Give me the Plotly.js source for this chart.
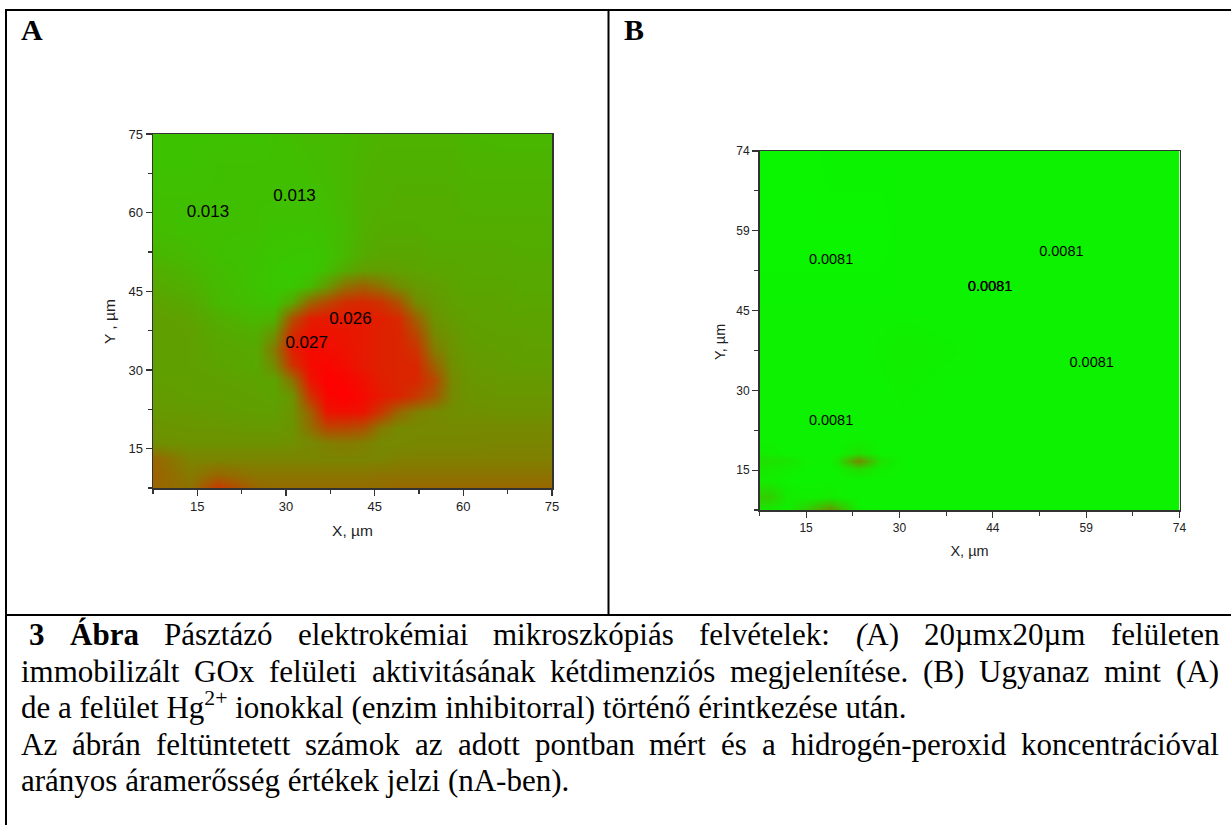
<!DOCTYPE html>
<html><head><meta charset="utf-8">
<script src="https://cdn.plot.ly/plotly-3.0.1.min.js"></script>
<style>html,body{margin:0;padding:0;background:#fff}#c{width:1231px;height:825px}</style></head>
<body><div id="c"></div>
<script>
// Panel A: relative signal (0 = green, 1 = red)
const xA=[7.5,14,18.5,25,28,31,34,37,40,43,46,49,52,55,58,61,66,70.5,75];
const yA=[7.5,10,13,16,19,22,25,28,31,34,37,40,43,46,49,52,57,63,69,75];
const zA=[
[.60,.56,.78,.60,.58,.58,.58,.58,.58,.58,.58,.60,.60,.60,.60,.60,.60,.60,.60],
[.62,.52,.60,.54,.54,.54,.54,.54,.54,.54,.55,.55,.55,.55,.55,.55,.55,.55,.55],
[.60,.48,.48,.48,.48,.48,.48,.48,.48,.48,.48,.50,.50,.50,.50,.50,.50,.50,.50],
[.44,.43,.43,.43,.43,.44,.46,.50,.52,.50,.46,.46,.47,.47,.47,.47,.48,.48,.48],
[.42,.41,.41,.40,.40,.42,.56,.72,.72,.68,.52,.46,.46,.46,.46,.46,.46,.46,.46],
[.40,.40,.39,.38,.38,.42,.62,.92,.94,.92,.78,.60,.50,.46,.44,.44,.43,.43,.43],
[.39,.38,.38,.37,.36,.42,.80,.98,1.0,.96,.90,.86,.78,.66,.46,.42,.41,.41,.41],
[.38,.38,.37,.36,.36,.55,.92,1.0,.98,.94,.88,.86,.85,.72,.46,.41,.40,.40,.40],
[.38,.37,.36,.34,.46,.80,.96,.98,.95,.90,.87,.86,.85,.62,.44,.40,.39,.38,.38],
[.38,.37,.35,.34,.52,.88,.96,.95,.93,.90,.87,.86,.80,.52,.42,.39,.38,.37,.37],
[.38,.37,.34,.32,.42,.82,.93,.93,.92,.90,.87,.86,.72,.46,.41,.38,.37,.37,.36],
[.38,.36,.32,.28,.30,.68,.88,.90,.90,.90,.88,.84,.62,.42,.39,.37,.36,.36,.36],
[.36,.34,.28,.25,.24,.34,.60,.72,.82,.84,.80,.68,.45,.40,.37,.36,.36,.35,.35],
[.34,.31,.27,.24,.22,.22,.27,.40,.56,.62,.55,.45,.40,.38,.36,.35,.35,.34,.34],
[.32,.29,.26,.24,.22,.21,.22,.26,.33,.38,.38,.37,.36,.35,.35,.34,.34,.34,.34],
[.29,.27,.25,.24,.23,.22,.22,.24,.28,.33,.35,.35,.35,.34,.34,.34,.34,.33,.33],
[.26,.25,.25,.25,.24,.24,.24,.25,.27,.31,.33,.33,.33,.32,.32,.32,.32,.32,.32],
[.25,.25,.25,.25,.25,.25,.25,.26,.28,.31,.31,.32,.32,.32,.32,.31,.31,.31,.31],
[.24,.24,.25,.25,.25,.25,.26,.27,.28,.30,.31,.31,.31,.31,.31,.30,.30,.30,.30],
[.24,.24,.24,.24,.25,.26,.27,.27,.28,.29,.30,.30,.30,.30,.30,.29,.28,.28,.28]];
const labelsAx=[16.8,31.45,40.9,33.5];
const labelsAy=[60.0,63.0,39.6,35.1];
const labelsAt=["0.013","0.013","0.026","0.027"];
const ticksA=[15,30,45,60,75];
const minorA=[7.5,22.5,37.5,52.5,67.5];

// Panel B
const xB=[7.5,9,12,15,18.8,20,23.2,26.5,30,37,44,52,59,66,74];
const yB=[7.5,10,13,15.1,16.6,18.1,21,30,37,45,59,74];
const zB=[
[.08,.08,.06,.20,.42,.30,.06,.05,.05,.05,.05,.05,.05,.05,.05],
[.20,.20,.08,.06,.08,.06,.05,.05,.05,.05,.05,.05,.05,.05,.05],
[.07,.07,.05,.05,.05,.05,.05,.05,.05,.05,.05,.05,.05,.05,.05],
[.09,.09,.07,.05,.05,.06,.14,.07,.05,.05,.05,.05,.05,.05,.05],
[.12,.12,.10,.06,.05,.12,.46,.12,.05,.05,.05,.05,.05,.05,.05],
[.07,.07,.05,.05,.05,.05,.12,.05,.05,.05,.05,.05,.05,.05,.05],
[.05,.05,.05,.05,.05,.05,.05,.05,.05,.05,.05,.05,.05,.05,.05],
[.05,.05,.05,.05,.05,.05,.05,.05,.06,.05,.05,.05,.05,.05,.05],
[.05,.05,.05,.05,.05,.05,.05,.06,.07,.06,.05,.05,.05,.05,.05],
[.05,.05,.05,.05,.05,.05,.05,.05,.05,.05,.05,.05,.05,.05,.05],
[.04,.04,.04,.04,.04,.04,.04,.04,.05,.05,.05,.05,.05,.05,.05],
[.04,.04,.04,.04,.05,.05,.05,.05,.05,.05,.05,.05,.05,.05,.05]];
const labelsBx=[18.83,55.3,44.0,44.03,60.1,18.83];
const labelsBy=[53.8,55.3,48.8,48.8,34.7,24.0];
const labelsBt=["0.0081","0.0081","0.0081","0.0081","0.0081","0.0081"];
const ticksB=[14.88,29.66,44.44,59.22,74];
const tickTextBx=["15","30","44","59","74"];
const tickTextBy=["15","30","45","59","74"];
const minorB=[7.5,22.27,37.05,51.83,66.61];

// Caption
const justified=[
 {y:634,x0:28,t:"<b>3</b> <b>Ábra</b> Pásztázó elektrokémiai mikroszkópiás felvételek: <i>(</i>A) 20µmx20µm felületen"},
 {y:671,x0:20,t:"immobilizált GOx felületi aktivitásának kétdimenziós megjelenítése. (B) Ugyanaz mint (A)"},
 {y:744,x0:20,t:"Az ábrán feltüntetett számok az adott pontban mért és a hidrogén-peroxid koncentrációval"}];
const plainLines=[
 {y:705,x0:20,t:"de a felület Hg<sup>2+</sup> ionokkal (enzim inhibitorral) történő érintkezése után."},
 {y:780,x0:20,t:"arányos áramerősség értékek jelzi (nA-ben)."}];

const W=1231,H=825,px=x=>x/W,py=y=>1-y/H;
const scale=[[0,'rgb(0,255,0)'],[1,'rgb(255,0,0)']];
const hm=(x,y,z,xa,ya)=>({type:'heatmap',x,y,z,xaxis:xa,yaxis:ya,zmin:0,zmax:1,colorscale:scale,showscale:false,zsmooth:'best',hoverinfo:'skip'});
const tx=(x,y,t,xa,ya,s)=>({type:'scatter',mode:'text',x,y,text:t,xaxis:xa,yaxis:ya,textposition:'middle center',textfont:{family:'Liberation Sans',size:s,color:'#000'},hoverinfo:'skip',showlegend:false});
const traces=[hm(xA,yA,zA,'x','y'),tx(labelsAx,labelsAy,labelsAt,'x','y',17),hm(xB,yB,zB,'x2','y2'),tx(labelsBx,labelsBy,labelsBt,'x2','y2',14.5)];

const ax=(dom,range,vals,text,minor,fs,title,standoff,anchor)=>({domain:dom,range,anchor,tickmode:'array',tickvals:vals,ticktext:text,
 tickfont:{family:'Liberation Sans',size:fs,color:'#222'},ticks:'outside',ticklen:6,tickwidth:1.2,tickcolor:'#333',
 minor:{tickmode:'array',tickvals:minor,ticks:'outside',ticklen:4,tickwidth:1.2,tickcolor:'#333',showgrid:false},
 showline:true,linecolor:'#333',linewidth:1.5,mirror:true,showgrid:false,zeroline:false,
 title:title?{text:title,standoff,font:{family:'Liberation Sans',size:fs+2.5,color:'#222'}}:undefined,automargin:false});

const ctx=document.createElement('canvas').getContext('2d');
const FS=31,FF='Liberation Serif';
const anns=[];
const cap=(x,y,t)=>anns.push({xref:'paper',yref:'paper',x:px(x),y:py(y),xanchor:'left',yanchor:'middle',showarrow:false,text:t,borderpad:0,font:{family:FF,size:FS,color:'#000'}});
const measure=w=>{ctx.font=(w.includes('<b>')?'bold ':'')+FS+'px "'+FF+'"';return ctx.measureText(w.replace(/<[^>]+>/g,'')).width;};
justified.forEach(l=>{
 const words=l.t.split(' '),ws=words.map(measure),tot=ws.reduce((a,b)=>a+b,0);
 const gap=(1218-l.x0-tot)/(words.length-1);let x=l.x0;
 words.forEach((w,i)=>{cap(x,l.y,w);x+=ws[i]+gap;});
});
plainLines.forEach(l=>cap(l.x0,l.y,l.t));
[['A',20],['B',623]].forEach(([t,x])=>anns.push({xref:'paper',yref:'paper',x:px(x),y:py(29),xanchor:'left',yanchor:'middle',showarrow:false,text:'<b>'+t+'</b>',borderpad:0,font:{family:FF,size:30,color:'#000'}}));
[['Y , µm',109,322,15.5],['Y, µm',720,342,14.5]].forEach(([t,x,y,s])=>anns.push({xref:'paper',yref:'paper',x:px(x),y:py(y),xanchor:'center',yanchor:'middle',textangle:-90,showarrow:false,text:t,borderpad:0,font:{family:'Liberation Sans',size:s,color:'#222'}}));

const ln=(x0,y0,x1,y1)=>({type:'line',xref:'paper',yref:'paper',x0:px(x0),y0:py(y0),x1:px(x1),y1:py(y1),line:{color:'#000',width:2}});
const layout={width:W,height:H,margin:{l:0,r:0,t:0,b:0},paper_bgcolor:'#fff',plot_bgcolor:'#fff',showlegend:false,
 xaxis:ax([px(153),px(552)],[7.5,75],ticksA,ticksA.map(String),minorA,13,'X, µm',12,'y'),
 yaxis:ax([py(488),py(134)],[7.5,75],ticksA,ticksA.map(String),minorA,13,null,10,'x'),
 xaxis2:ax([px(759.5),px(1179.5)],[7.5,74],ticksB,tickTextBx,minorB,12,'X, µm',12,'y2'),
 yaxis2:ax([py(510),py(151)],[7.5,74],ticksB,tickTextBy,minorB,12,null,10,'x2'),
 annotations:anns,
 shapes:[ln(5,10,1231,10),ln(6,9,6,825),ln(608.5,10,608.5,615),ln(5,615,1231,615)]};
Plotly.newPlot('c',traces,layout,{displayModeBar:false,staticPlot:true});
</script></body></html>
